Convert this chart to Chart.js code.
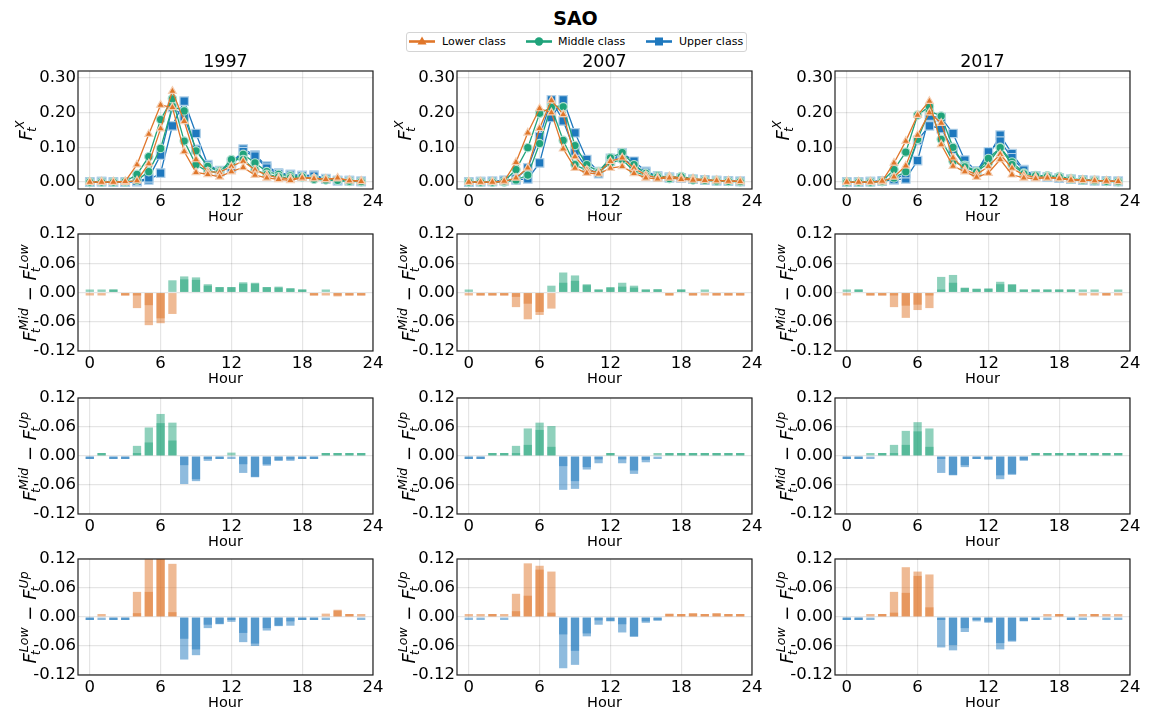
<!DOCTYPE html>
<html><head><meta charset="utf-8">
<script src="https://cdn.jsdelivr.net/npm/chart.js@4.4.0/dist/chart.umd.min.js"></script>
<style>
body{margin:0;background:#fff;width:1151px;height:713px;overflow:hidden;position:relative;font-family:"DejaVu Sans";}
canvas{position:absolute;}
.t{position:absolute;white-space:nowrap;color:#000;line-height:1;}
</style></head><body>
<div class="t" style="left:475.5px;top:9px;width:200px;text-align:center;font-size:19px;font-weight:bold;">SAO</div>
<div style="position:absolute;left:406px;top:32px;width:339px;height:18px;border:1px solid #d4d4d4;border-radius:3px;"></div>
<svg style="position:absolute;left:409px;top:35px" width="26" height="13"><line x1="0" y1="6.5" x2="26" y2="6.5" stroke="#e0762a" stroke-width="2.6"/><polygon points="13,1.5 17.5,9.5 8.5,9.5" fill="#e0762a"/></svg>
<div class="t" style="left:442px;top:36px;font-size:11px;">Lower class</div>
<svg style="position:absolute;left:526px;top:35px" width="26" height="13"><line x1="0" y1="6.5" x2="26" y2="6.5" stroke="#1fa37a" stroke-width="2.6"/><circle cx="13" cy="6.5" r="4.2" fill="#1fa37a"/></svg>
<div class="t" style="left:558px;top:36px;font-size:11px;">Middle class</div>
<svg style="position:absolute;left:646px;top:35px" width="26" height="13"><line x1="0" y1="6.5" x2="26" y2="6.5" stroke="#1e78be" stroke-width="2.6"/><rect x="9" y="2.5" width="8" height="8" fill="#1e78be"/></svg>
<div class="t" style="left:679px;top:36px;font-size:11px;">Upper class</div>
<div id="root"></div>
<script>
// ---------------- DATA ----------------
const HOURS = [0,1,2,3,4,5,6,7,8,9,10,11,12,13,14,15,16,17,18,19,20,21,22,23];
const YEARS = ['1997','2007','2017'];
const X_TICKS = [0,6,12,18,24];
const Y_TICKS_SHARE = [0,0.05,0.10,0.15,0.20,0.25,0.30];
const Y_TICKS_DIFF = [-0.12,-0.06,0,0.06,0.12];
const CLASS_NAMES = ['Lower class','Middle class','Upper class'];

// share of trips by hour, two series per class (earlier / later profile)
const LOW_A_1997 = [0,0,0,0.002,0.05,0.138,0.222,0.215,0.088,0.028,0.022,0.015,0.03,0.042,0.02,0.012,0.008,0.005,0.012,0.01,0.008,0.012,0.004,0.002];
const LOW_B_1997 = [0,0,0,0,0.004,0.053,0.154,0.262,0.175,0.065,0.03,0.028,0.045,0.06,0.035,0.02,0.012,0.01,0.012,0.012,0.008,0.01,0.005,0.003];
const MID_A_1997 = [0,0,0,0.001,0.022,0.073,0.18,0.24,0.118,0.05,0.03,0.028,0.065,0.065,0.035,0.022,0.015,0.012,0.015,0.008,0.006,0.005,0.002,0.001];
const MID_B_1997 = [0,0,0,0,0.005,0.03,0.097,0.218,0.205,0.09,0.045,0.032,0.055,0.08,0.055,0.03,0.022,0.018,0.015,0.01,0.008,0.005,0.003,0.001];
const UP_A_1997 = [0,0.001,0,0,0.002,0.012,0.078,0.215,0.188,0.094,0.045,0.03,0.057,0.088,0.075,0.04,0.024,0.02,0.018,0.017,0.009,0.004,0.004,0.002];
const UP_B_1997 = [0,0.001,0,0,0.001,0.006,0.026,0.162,0.233,0.14,0.05,0.033,0.041,0.095,0.078,0.046,0.026,0.022,0.019,0.02,0.01,0.004,0.004,0.002];

const LOW_A_2007 = [0,0,0,0.003,0.057,0.142,0.212,0.2,0.096,0.04,0.026,0.024,0.04,0.045,0.025,0.012,0.009,0.012,0.008,0.006,0.005,0.004,0.003,0.002];
const LOW_B_2007 = [0,0,0,0.001,0.012,0.041,0.155,0.235,0.195,0.073,0.035,0.027,0.06,0.07,0.04,0.02,0.012,0.016,0.012,0.01,0.007,0.005,0.003,0.002];
const MID_A_2007 = [0,0,0,0.002,0.036,0.099,0.198,0.215,0.12,0.05,0.033,0.028,0.055,0.065,0.031,0.018,0.014,0.01,0.015,0.006,0.005,0.003,0.002,0.001];
const MID_B_2007 = [0,0,0,0,0.006,0.02,0.111,0.22,0.217,0.105,0.05,0.03,0.07,0.085,0.05,0.025,0.018,0.013,0.016,0.009,0.006,0.004,0.002,0.001];
const UP_A_2007 = [0,0.001,0.002,0.005,0.009,0.041,0.131,0.237,0.176,0.089,0.04,0.024,0.068,0.07,0.045,0.028,0.015,0.012,0.011,0.008,0.006,0.004,0.003,0.002];
const UP_B_2007 = [0,0.001,0.002,0.004,0.006,0.009,0.055,0.186,0.237,0.142,0.065,0.03,0.06,0.084,0.06,0.031,0.018,0.014,0.012,0.008,0.006,0.004,0.003,0.002];

const LOW_A_2017 = [0,0,0,0.003,0.055,0.118,0.193,0.233,0.108,0.046,0.03,0.014,0.026,0.065,0.021,0.012,0.01,0.012,0.01,0.006,0.005,0.004,0.003,0.002];
const LOW_B_2017 = [0,0,0,0.001,0.015,0.047,0.135,0.2,0.17,0.07,0.035,0.022,0.045,0.08,0.04,0.02,0.014,0.014,0.012,0.008,0.006,0.005,0.003,0.002];
const MID_A_2017 = [0,0,0,0.002,0.036,0.086,0.193,0.218,0.123,0.06,0.044,0.029,0.068,0.099,0.05,0.024,0.018,0.016,0.014,0.008,0.006,0.004,0.002,0.001];
const MID_B_2017 = [0,0,0,0.001,0.012,0.03,0.123,0.205,0.19,0.1,0.048,0.03,0.055,0.1,0.058,0.026,0.019,0.018,0.016,0.01,0.006,0.004,0.002,0.001];
const UP_A_2017 = [0,0,0.001,0.003,0.007,0.024,0.12,0.162,0.154,0.094,0.047,0.029,0.087,0.118,0.07,0.034,0.018,0.014,0.012,0.008,0.006,0.004,0.003,0.002];
const UP_B_2017 = [0,0,0.001,0.003,0.007,0.009,0.062,0.19,0.186,0.14,0.063,0.032,0.075,0.135,0.082,0.036,0.018,0.014,0.011,0.008,0.006,0.004,0.003,0.002];

// differences between classes, two series each
const MID_LOW_A_1997 = [-0.002,-0.002,0.002,-0.002,-0.032,-0.067,-0.063,-0.044,0.033,0.031,0.017,0.011,0.011,0.021,0.02,0.011,0.012,0.009,0.004,-0.003,-0.005,-0.008,-0.004,-0.003];
const MID_LOW_B_1997 = [0.001,0.001,0.002,-0.002,-0.002,-0.026,-0.053,0.025,0.027,0.026,0.014,0.011,0.011,0.018,0.018,0.011,0.01,0.008,0.003,-0.003,0.002,-0.006,-0.004,-0.003];
const MID_UP_A_1997 = [-0.002,0.002,-0.002,-0.002,0.021,0.059,0.087,0.069,-0.058,-0.052,-0.01,-0.006,0.007,-0.035,-0.044,-0.02,-0.01,-0.01,-0.005,-0.005,0.003,0.006,0.004,0.002];
const MID_UP_B_1997 = [-0.001,0.001,-0.002,-0.002,0.005,0.028,0.068,0.032,-0.019,-0.048,-0.005,-0.006,-0.003,-0.017,-0.043,-0.017,-0.009,-0.007,-0.005,-0.004,0.002,0.005,0.003,0.001];
const LOW_UP_A_1997 = [-0.002,-0.002,-0.002,-0.002,0.052,0.125,0.135,0.11,-0.088,-0.079,-0.023,-0.015,-0.01,-0.052,-0.06,-0.028,-0.019,-0.018,-0.005,-0.004,0.007,0.015,0.006,0.003];
const LOW_UP_B_1997 = [-0.001,0.001,-0.002,-0.002,0.008,0.052,0.124,0.01,-0.045,-0.067,-0.016,-0.014,-0.006,-0.033,-0.055,-0.023,-0.018,-0.009,-0.004,-0.003,-0.002,0.013,0.005,-0.002];

const MID_LOW_A_2007 = [0.001,-0.002,-0.002,-0.004,-0.03,-0.055,-0.046,-0.033,0.041,0.035,0.017,0.006,0.011,0.02,0.014,0.005,0.007,-0.003,0.006,-0.003,-0.003,-0.003,-0.003,-0.003];
const MID_LOW_B_2007 = [-0.001,-0.002,-0.002,-0.002,-0.009,-0.023,-0.04,0.014,0.02,0.024,0.015,0.004,0.01,0.012,0.01,0.005,0.006,-0.002,0.005,-0.002,0.001,-0.002,-0.003,-0.002];
const MID_UP_A_2007 = [-0.002,-0.002,0.002,0.002,0.021,0.057,0.069,0.062,-0.07,-0.068,-0.028,-0.015,0.006,-0.015,-0.037,-0.013,-0.003,0.004,0.004,0.004,0.003,0.005,0.003,0.002];
const MID_UP_B_2007 = [-0.001,-0.002,0.002,0.002,0.005,0.023,0.054,0.019,-0.021,-0.052,-0.023,-0.007,0.004,-0.007,-0.03,-0.008,0.002,0.003,0.004,0.003,0.002,0.004,0.002,0.002];
const LOW_UP_A_2007 = [-0.002,-0.002,0.003,0.003,0.048,0.111,0.106,0.094,-0.106,-0.099,-0.04,-0.016,-0.009,-0.032,-0.041,-0.012,-0.008,0.007,0.003,0.008,0.006,0.008,0.006,0.004];
const LOW_UP_B_2007 = [0.001,0.001,0.002,-0.001,0.012,0.044,0.098,0.009,-0.036,-0.07,-0.034,-0.007,-0.008,-0.015,-0.04,-0.009,-0.005,0.006,0.002,0.007,0.005,0.007,0.005,0.004];

const MID_LOW_A_2017 = [0.001,0.001,-0.003,-0.003,-0.03,-0.052,-0.036,-0.032,0.032,0.036,0.01,0.008,0.008,0.022,0.017,0.005,0.005,0.004,0.004,0.003,0.002,-0.003,-0.003,0.001];
const MID_LOW_B_2017 = [-0.001,0.001,-0.002,-0.002,-0.005,-0.027,-0.025,-0.002,0.003,0.02,0.009,0.007,0.008,0.017,0.016,0.004,0.004,0.004,0.004,0.002,-0.001,0.001,-0.002,-0.001];
const MID_UP_A_2017 = [-0.001,-0.002,-0.002,0.002,0.023,0.052,0.07,0.057,-0.035,-0.04,-0.023,-0.005,-0.008,-0.048,-0.039,-0.01,0.003,0.004,0.005,0.003,0.003,0.003,0.002,0.002];
const MID_UP_B_2017 = [-0.002,-0.002,0.001,0.002,0.006,0.023,0.051,0.019,-0.006,-0.039,-0.019,-0.004,-0.006,-0.04,-0.037,-0.008,0.002,0.003,0.004,0.002,0.002,0.003,0.001,0.002];
const LOW_UP_A_2017 = [-0.002,-0.003,0.002,0.004,0.052,0.103,0.094,0.088,-0.063,-0.069,-0.031,-0.009,-0.012,-0.067,-0.051,-0.009,-0.003,-0.002,0.004,-0.002,0.003,0.005,0.003,-0.002];
const LOW_UP_B_2017 = [-0.002,-0.002,-0.001,0.003,0.009,0.05,0.085,0.02,-0.006,-0.058,-0.023,-0.006,-0.01,-0.054,-0.049,-0.008,-0.002,0.001,0.003,-0.001,-0.001,0.004,-0.001,0.001];

// ---------------- STYLE / LAYOUT ----------------
const FONT = 'DejaVu Sans';
const COL = { low:[224,118,42], mid:[31,163,122], up:[30,120,190] };
const rgba = (c,a) => `rgba(${c[0]},${c[1]},${c[2]},${a})`;
const tint = (c,f) => `rgb(${Math.round(c[0]+(255-c[0])*f)},${Math.round(c[1]+(255-c[1])*f)},${Math.round(c[2]+(255-c[2])*f)})`;

const FRAME_LEFT = [78, 457, 835];
const FRAME_TOP = [71, 234, 398, 559];
const FRAME_H = [118, 117, 116, 116];
const FW = 295;
const L = 80, T = 14, R = 16, B = 37;

const LINE_SETS = {
  '1997': [[LOW_A_1997,LOW_B_1997],[MID_A_1997,MID_B_1997],[UP_A_1997,UP_B_1997]],
  '2007': [[LOW_A_2007,LOW_B_2007],[MID_A_2007,MID_B_2007],[UP_A_2007,UP_B_2007]],
  '2017': [[LOW_A_2017,LOW_B_2017],[MID_A_2017,MID_B_2017],[UP_A_2017,UP_B_2017]]
};
const BAR_SETS = {
  '1997': [[MID_LOW_A_1997,MID_LOW_B_1997],[MID_UP_A_1997,MID_UP_B_1997],[LOW_UP_A_1997,LOW_UP_B_1997]],
  '2007': [[MID_LOW_A_2007,MID_LOW_B_2007],[MID_UP_A_2007,MID_UP_B_2007],[LOW_UP_A_2007,LOW_UP_B_2007]],
  '2017': [[MID_LOW_A_2017,MID_LOW_B_2017],[MID_UP_A_2017,MID_UP_B_2017],[LOW_UP_A_2017,LOW_UP_B_2017]]
};
const BAR_COLORS = [[COL.mid, COL.low],[COL.mid, COL.up],[COL.low, COL.up]]; // [positive, negative]
const BAR_LABELS = [
  [{base:'F',sup:'Mid',sub:'t'},{text:' \u2212 '},{base:'F',sup:'Low',sub:'t'}],
  [{base:'F',sup:'Mid',sub:'t'},{text:' \u2212 '},{base:'F',sup:'Up',sub:'t'}],
  [{base:'F',sup:'Low',sub:'t'},{text:' \u2212 '},{base:'F',sup:'Up',sub:'t'}]
];
const SHARE_LABEL = [{base:'F',sup:'X',sub:'t'}];

function drawMath(ctx, bx, cy, tokens) {
  const S = 18, s = 12.5;
  const fB = `italic ${S}px "${FONT}"`, fS = `italic ${s}px "${FONT}"`, fN = `${S}px "${FONT}"`;
  ctx.save();
  const parts = tokens.map(tk => {
    if (tk.text) { ctx.font = fN; return {tk, w: ctx.measureText(tk.text).width}; }
    ctx.font = fB; const wb = ctx.measureText(tk.base).width;
    ctx.font = fS; const wsup = ctx.measureText(tk.sup).width, wsub = ctx.measureText(tk.sub).width;
    return {tk, wb, w: wb + Math.max(wsup + 1, wsub - 1) + 1};
  });
  const total = parts.reduce((a,p)=>a+p.w,0);
  ctx.translate(bx, cy); ctx.rotate(-Math.PI/2);
  ctx.fillStyle = '#000'; ctx.textBaseline = 'alphabetic'; ctx.textAlign = 'left';
  let x = -total/2;
  for (const p of parts) {
    if (p.tk.text) { ctx.font = fN; ctx.fillText(p.tk.text, x, 0); }
    else {
      ctx.font = fB; ctx.fillText(p.tk.base, x, 0);
      ctx.font = fS;
      ctx.fillText(p.tk.sup, x + p.wb + 1, -S*0.45);
      ctx.fillText(p.tk.sub, x + p.wb - 2, S*0.22);
    }
    x += p.w;
  }
  ctx.restore();
}

const framePlugin = {
  id: 'frame',
  afterDraw(chart, args, opts) {
    const {ctx, chartArea: a} = chart;
    ctx.save();
    ctx.strokeStyle = '#222'; ctx.lineWidth = 1.2;
    ctx.strokeRect(a.left, a.top, a.right - a.left, a.bottom - a.top);
    ctx.restore();
    drawMath(ctx, a.left + opts.labelOffset, (a.top + a.bottom)/2, opts.tokens);
  }
};

function makeScales(yMin, yMax, yTicks) {
  const grid = {color:'rgba(0,0,0,0.1)', lineWidth:1.2, drawTicks:false, offset:false};
  return {
    x: {
      type:'linear', min:-1, max:24, offset:false, grid, border:{display:false},
      ticks:{font:{family:FONT,size:16.5}, color:'#000', padding:3, maxRotation:0, autoSkip:false},
      afterBuildTicks: s => { s.ticks = X_TICKS.map(v => ({value:v})); },
      afterFit: s => { s.height = B; },
      title:{display:true, text:'Hour', font:{family:FONT,size:14.5}, color:'#000', padding:0}
    },
    y: {
      type:'linear', min:yMin, max:yMax, grid, border:{display:false},
      ticks:{font:{family:FONT,size:16.5}, color:'#000', padding:2, callback: v => Number(v).toFixed(2)},
      afterBuildTicks: s => { s.ticks = yTicks.map(v => ({value:v})); },
      afterFit: s => { s.width = L; }
    }
  };
}

function makeCanvas(col, row) {
  const c = document.createElement('canvas');
  c.width = L + FW + R; c.height = T + FRAME_H[row] + B;
  c.style.left = (FRAME_LEFT[col] - L) + 'px';
  c.style.top = (FRAME_TOP[row] - T) + 'px';
  c.style.width = c.width + 'px'; c.style.height = c.height + 'px';
  document.getElementById('root').appendChild(c);
  return c;
}

const baseOptions = (scales, tokens, off) => ({
  responsive:false, animation:false, events:[], devicePixelRatio:1,
  layout:{padding:{left:0, top:T, right:R, bottom:0}},
  plugins:{legend:{display:false}, tooltip:{enabled:false}, frame:{tokens, labelOffset:off}},
  scales
});

const MARKERS = [
  {style:'triangle', r:4.5},
  {style:'circle', r:4.2},
  {style:'rect', r:6}
];
const CLASS_COLS = [COL.low, COL.mid, COL.up];

YEARS.forEach((yr, col) => {
  const d = document.createElement('div');
  d.className = 't';
  d.textContent = yr;
  d.style.cssText += `left:${FRAME_LEFT[col] + FW/2 - 100}px;top:53px;width:200px;text-align:center;font-size:17.5px;`;
  document.body.appendChild(d);

  const datasets = [];
  LINE_SETS[yr].forEach((pair, ci) => {
    pair.forEach(arr => {
      datasets.push({
        label: CLASS_NAMES[ci],
        data: HOURS.map((h,i) => ({x:h, y:arr[i]})),
        borderColor: rgba(CLASS_COLS[ci],1), borderWidth:1.3,
        pointStyle: MARKERS[ci].style, pointRadius: MARKERS[ci].r,
        pointBackgroundColor: rgba(CLASS_COLS[ci],1),
        pointBorderColor: tint(CLASS_COLS[ci],0.65), pointBorderWidth:1.2,
        tension:0, fill:false
      });
    });
  });
  new Chart(makeCanvas(col,0), {
    type:'line', data:{datasets},
    options: baseOptions(makeScales(-0.02, 0.32, Y_TICKS_SHARE), SHARE_LABEL, -46),
    plugins:[framePlugin]
  });

  BAR_SETS[yr].forEach((pair, bi) => {
    const [pos, neg] = BAR_COLORS[bi];
    const ds = pair.map(arr => ({
      data: HOURS.map((h,i) => ({x:h, y:arr[i]})),
      backgroundColor: arr.map(v => v >= 0 ? rgba(pos,0.5) : rgba(neg,0.5)),
      borderWidth:0,
      grouped:false, barPercentage:0.7, categoryPercentage:1, minBarLength:3
    }));
    new Chart(makeCanvas(col, bi+1), {
      type:'bar', data:{datasets:ds},
      options: baseOptions(makeScales(-0.12, 0.12, Y_TICKS_DIFF), BAR_LABELS[bi], -42),
      plugins:[framePlugin]
    });
  });
});
</script>
</body></html>
